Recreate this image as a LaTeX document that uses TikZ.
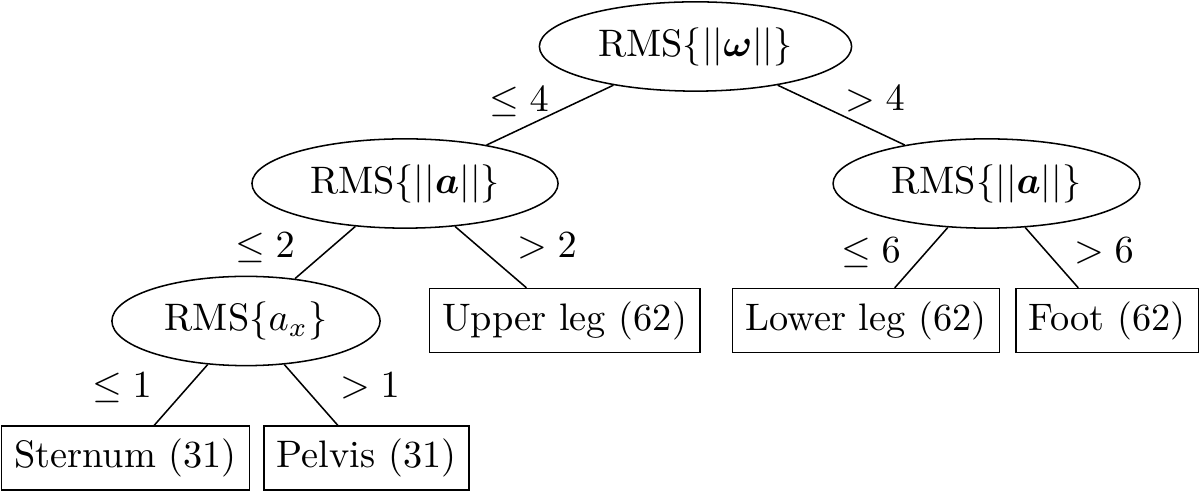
\documentclass[tikz,border=0pt]{standalone}
\usepackage{amsmath}
\usetikzlibrary{shapes.geometric}
\begin{document}
\begin{tikzpicture}[x=0.261pt,y=-0.261pt,
  test/.style={draw,ellipse,inner sep=0pt,minimum height=23.3pt},
  leaf/.style={draw,rectangle,inner sep=0.3333em},
  cond/.style={inner sep=0pt},
  every path/.style={line width=0.4pt}]
\useasboundingbox (0,0) rectangle (1200,491);
\node[test,minimum width=81.5pt] (root) at (695.5,46.5) {\makebox[0pt]{RMS$\{||\boldsymbol{\omega}||\}$}};
\node[test,minimum width=79.9pt] (L) at (405,183.5) {\makebox[0pt]{RMS$\{||\boldsymbol{a}||\}$}};
\node[test,minimum width=80.1pt] (R) at (986.5,183.5) {\makebox[0pt]{RMS$\{||\boldsymbol{a}||\}$}};
\node[test,minimum width=70pt] (ax) at (246,321) {\makebox[0pt]{RMS$\{a_x\}$}};
\node[leaf] (upper) at (564.5,320.5) {Upper leg (62)};
\node[leaf] (lower) at (866,320.5) {Lower leg (62)};
\node[leaf] (foot) at (1107,320.5) {Foot (62)};
\node[leaf] (sternum) at (125.5,458) {Sternum (31)};
\node[leaf] (pelvis) at (366.5,458) {Pelvis (31)};
\draw (root) -- (L);
\draw (root) -- (R);
\draw (L) -- (ax);
\draw (L) -- (upper);
\draw (R) -- (lower);
\draw (R) -- (foot);
\draw (ax) -- (sternum);
\draw (ax) -- (pelvis);
\node[cond] (c1) at (519,102) {$\leq 4$};
\node[cond] (c2) at (875,99) {$> 4$};
\node[cond] (c3) at (265,248) {$\leq 2$};
\node[cond] (c4) at (547,246) {$> 2$};
\node[cond] (c5) at (871,253) {$\leq 6$};
\node[cond] (c6) at (1104,251) {$> 6$};
\node[cond] (c7) at (122,388) {$\leq 1$};
\node[cond] (c8) at (370,386) {$> 1$};
\end{tikzpicture}
\end{document}
